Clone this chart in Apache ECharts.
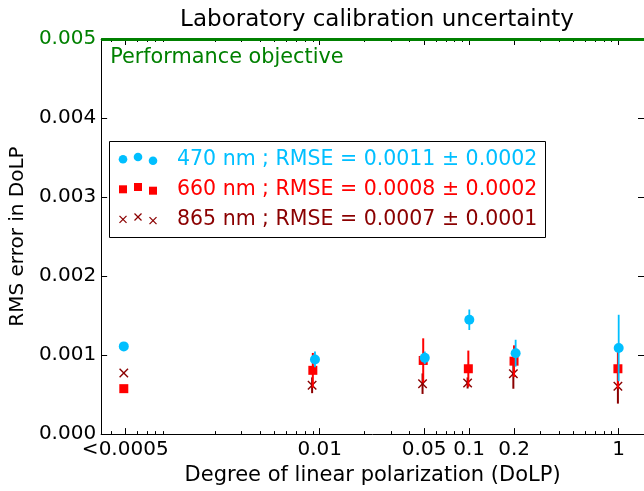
<!DOCTYPE html>
<html><head><meta charset="utf-8">
<script src="https://cdn.jsdelivr.net/npm/echarts@6/dist/echarts.min.js"></script>
<style>html,body{margin:0;padding:0;background:#fff}#c{width:644px;height:491px}</style>
</head><body><div id="c"></div>
<script>
// ---- data ----
const x470 = [0.000489, 0.0093, 0.0505, 0.1003, 0.2048, 1.002];
const rmse470 = [0.00111, 0.000945, 0.000965, 0.001447, 0.001024, 0.00109];
const err470 = [0, 0.0001, 0.00008, 0.00013, 0.00017, 0.00042];

const x660 = [0.000489, 0.0090, 0.0493, 0.0988, 0.1998, 0.99];
const rmse660 = [0.000575, 0.000807, 0.000932, 0.000827, 0.000923, 0.000827];
const err660 = [0, 0.00022, 0.00028, 0.00023, 0.0002, 0.00025];

const x865 = [0.000489, 0.0089, 0.0488, 0.0977, 0.1977, 0.99];
const rmse865 = [0.000773, 0.000618, 0.000638, 0.000647, 0.000764, 0.000606];
const err865 = [0, 0.0001, 0.00013, 0.00007, 0.00019, 0.00022];

const majorTicks = [0.0005, 0.01, 0.05, 0.1, 0.2, 1];
const majorLabels = ['<0.0005', '0.01', '0.05', '0.1', '0.2', '1'];
const yTicks = [0, 0.001, 0.002, 0.003, 0.004, 0.005];
const objective = 0.005;
const legendTexts = ['470 nm ; RMSE = 0.0011 ± 0.0002', '660 nm ; RMSE = 0.0008 ± 0.0002', '865 nm ; RMSE = 0.0007 ± 0.0001'];

// minor log ticks (2..9 x decade)
const minorTicks = [];
for (let d = -4; d <= 0; d++) for (let k = 2; k <= 9; k++) minorTicks.push(+(k * Math.pow(10, d)).toPrecision(3));

const C470 = '#00BFFF', C660 = '#FF0000', C865 = '#8B0000', GREEN = '#008000';
const FONT = 'DejaVu Sans';
const XMIN = 0.000345, XMAX = 1.48;

function majorLabel(v) {
  for (let i = 0; i < majorTicks.length; i++) if (Math.abs(v - majorTicks[i]) / majorTicks[i] < 1e-6) return majorLabels[i];
  return '';
}

function errSeries(xs, ys, es, color, width, z) {
  return {
    type: 'custom', z: z, silent: true, xAxisIndex: 0, yAxisIndex: 0,
    data: xs.map((x, i) => [x, ys[i] - es[i], ys[i] + es[i]]),
    encode: { x: 0, y: [1, 2] },
    renderItem(params, api) {
      const lo = api.coord([api.value(0), api.value(1)]);
      const hi = api.coord([api.value(0), api.value(2)]);
      if (Math.abs(lo[1] - hi[1]) < 0.5) return null;
      return { type: 'line', shape: { x1: lo[0], y1: lo[1], x2: hi[0], y2: hi[1] }, style: { stroke: color, lineWidth: width } };
    }
  };
}

function crossSeries(xs, ys, color, z) {
  return {
    type: 'custom', z: z, silent: true, xAxisIndex: 0, yAxisIndex: 0,
    data: xs.map((x, i) => [x, ys[i]]),
    encode: { x: 0, y: 1 },
    renderItem(params, api) {
      const p = api.coord([api.value(0), api.value(1)]);
      const r = 4.2;
      return { type: 'group', children: [
        { type: 'line', shape: { x1: p[0] - r, y1: p[1] - r, x2: p[0] + r, y2: p[1] + r }, style: { stroke: color, lineWidth: 1.4 } },
        { type: 'line', shape: { x1: p[0] - r, y1: p[1] + r, x2: p[0] + r, y2: p[1] - r }, style: { stroke: color, lineWidth: 1.4 } }
      ] };
    }
  };
}

function xAxisDef(pos, ticks, len, showLine, showLabel) {
  return {
    type: 'log', logBase: 10, min: XMIN, max: XMAX, position: pos,
    axisLine: { show: showLine, lineStyle: { color: '#000', width: 1 } },
    axisTick: { show: true, inside: true, length: len, customValues: ticks, lineStyle: { color: '#000', width: 1 } },
    axisLabel: showLabel ? { show: true, customValues: majorTicks, formatter: majorLabel, color: '#000', fontSize: 20, fontFamily: FONT, margin: 6 } : { show: false },
    splitLine: { show: false }, minorTick: { show: false }
  };
}

const chart = echarts.init(document.getElementById('c'), null, { renderer: 'canvas' });

const xAxes = [
  xAxisDef('bottom', majorTicks, 6, true, true),
  xAxisDef('bottom', minorTicks, 3, false, false),
  xAxisDef('top', majorTicks, 6, true, false),
  xAxisDef('top', minorTicks, 3, false, false)
];
Object.assign(xAxes[0], { name: 'Degree of linear polarization (DoLP)', nameLocation: 'middle', nameGap: 30, nameTextStyle: { color: '#000', fontSize: 21, fontFamily: FONT } });

const legendRows = [
  { y: 158.5, color: C470, kind: 'circle' },
  { y: 188.5, color: C660, kind: 'rect' },
  { y: 218.5, color: C865, kind: 'cross' }
];
const legendOffsets = [[123, 0.8], [138, -1.5], [153, 2.2]];
const legendChildren = [{ type: 'rect', shape: { x: 109.5, y: 141.5, width: 436, height: 96 }, style: { fill: '#fff', stroke: '#000', lineWidth: 1 } }];
legendRows.forEach((row, i) => {
  legendOffsets.forEach(([lx, dy]) => {
    const cy = row.y + dy;
    if (row.kind === 'circle') legendChildren.push({ type: 'circle', shape: { cx: lx, cy: cy, r: 4.3 }, style: { fill: row.color } });
    else if (row.kind === 'rect') legendChildren.push({ type: 'rect', shape: { x: lx - 4, y: cy - 4, width: 8, height: 8 }, style: { fill: row.color } });
    else {
      legendChildren.push({ type: 'line', shape: { x1: lx - 3.5, y1: cy - 3.5, x2: lx + 3.5, y2: cy + 3.5 }, style: { stroke: row.color, lineWidth: 1.2 } });
      legendChildren.push({ type: 'line', shape: { x1: lx - 3.5, y1: cy + 3.5, x2: lx + 3.5, y2: cy - 3.5 }, style: { stroke: row.color, lineWidth: 1.2 } });
    }
  });
  legendChildren.push({ type: 'text', style: { x: 177, y: row.y + 1, text: legendTexts[i], fill: row.color, font: '20.5px "' + FONT + '"', textVerticalAlign: 'middle', verticalAlign: 'middle' } });
});

chart.setOption({
  animation: false,
  backgroundColor: '#fff',
  title: { text: 'Laboratory calibration uncertainty', left: 372, textAlign: 'center', top: 4, textStyle: { color: '#000', fontSize: 23, fontWeight: 'normal', fontFamily: FONT } },
  grid: { left: 99, right: -2, top: 39, bottom: 53.5, containLabel: false },
  xAxis: xAxes,
  yAxis: [
    { type: 'value', min: 0, max: 0.005, interval: 0.001, position: 'left',
      name: 'RMS error in DoLP', nameLocation: 'middle', nameGap: 67, nameTextStyle: { color: '#000', fontSize: 20, fontFamily: FONT },
      axisLine: { show: true, lineStyle: { color: '#000', width: 1 } },
      axisTick: { show: true, inside: true, length: 6, lineStyle: { color: '#000' } },
      axisLabel: { formatter: v => v.toFixed(3), color: (v) => (Math.abs(+v - objective) < 1e-9 ? GREEN : '#000'), fontSize: 20, fontFamily: FONT, margin: 5 },
      splitLine: { show: false } },
    { type: 'value', min: 0, max: 0.005, interval: 0.001, position: 'right',
      axisLine: { show: true, lineStyle: { color: '#000', width: 1 } },
      axisTick: { show: true, inside: true, length: 6, lineStyle: { color: '#000' } },
      axisLabel: { show: false }, splitLine: { show: false } }
  ],
  graphic: [{ type: 'group', z: 100, children: legendChildren }],
  series: [
    errSeries(x865, rmse865, err865, C865, 2, 1),
    crossSeries(x865, rmse865, C865, 2),
    errSeries(x660, rmse660, err660, C660, 2, 3),
    { type: 'scatter', z: 4, xAxisIndex: 0, yAxisIndex: 0, symbol: 'rect', symbolSize: 9, itemStyle: { color: C660, opacity: 1 }, data: x660.map((x, i) => [x, rmse660[i]]) },
    errSeries(x470, rmse470, err470, C470, 1.8, 5),
    { type: 'scatter', z: 6, clip: false, xAxisIndex: 0, yAxisIndex: 0, symbol: 'circle', symbolSize: 10, itemStyle: { color: C470, opacity: 1 }, data: x470.map((x, i) => [x, rmse470[i]]),
      markLine: { silent: true, symbol: 'none', animation: false, z: 10,
        data: [[{ coord: [XMIN, objective] }, { coord: [XMAX, objective] }]],
        lineStyle: { color: GREEN, width: 3, type: 'solid' },
        label: { show: true, position: 'insideStartBottom', formatter: 'Performance objective', color: GREEN, fontSize: 20.8, fontFamily: FONT, distance: [9, 8] } } }
  ]
});
</script></body></html>
